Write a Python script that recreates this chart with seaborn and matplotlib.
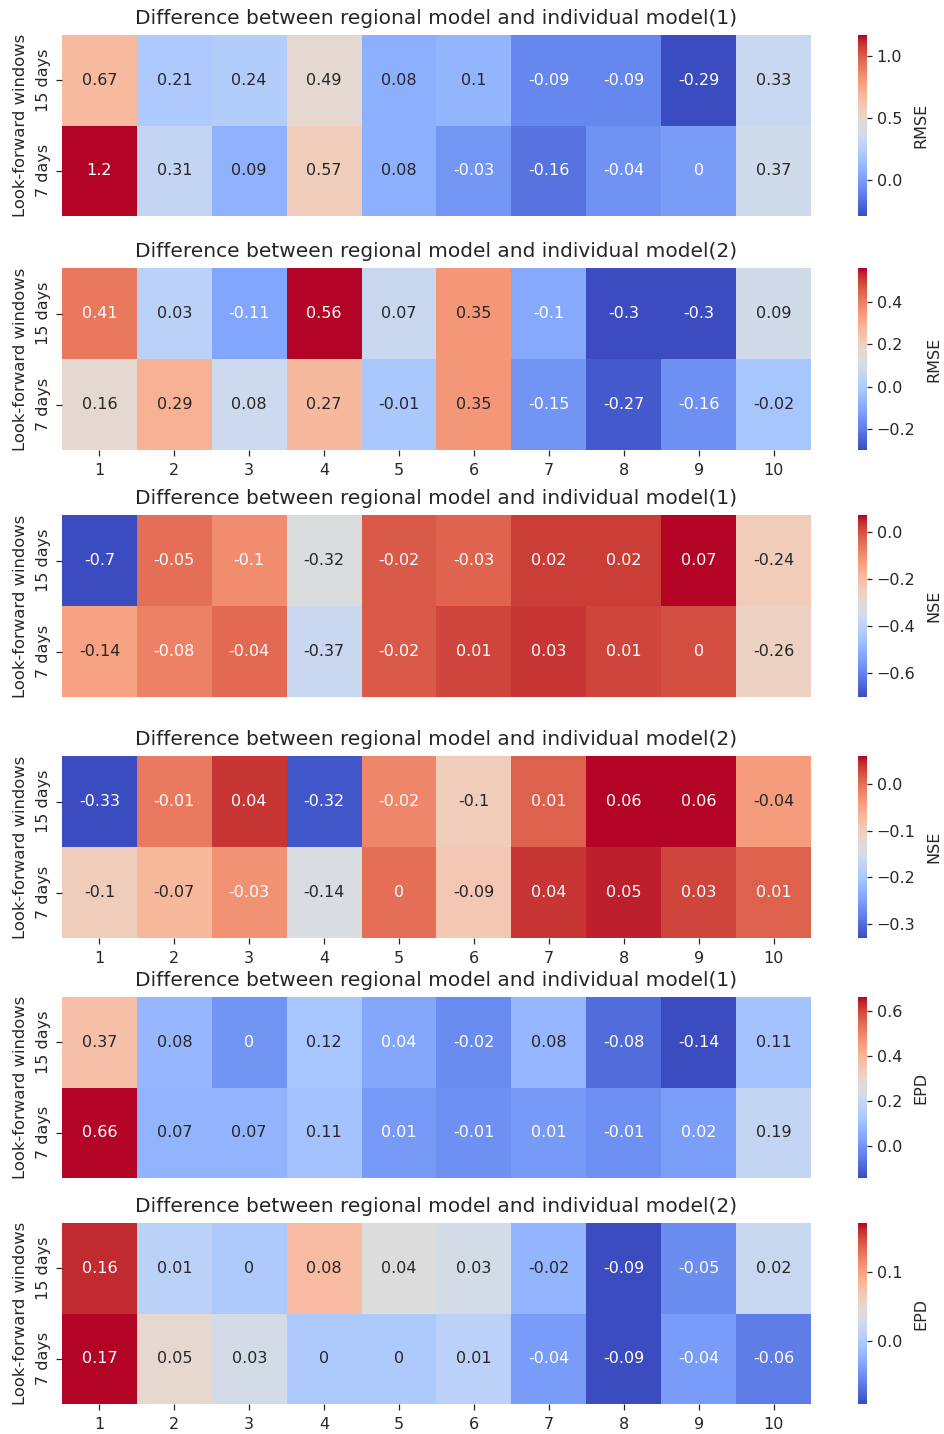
import numpy as np
import pandas as pd
import matplotlib
matplotlib.use("Agg")
import matplotlib.pyplot as plt
import seaborn as sns

regions = [str(i) for i in range(1, 11)]
windows = ["15 days", "7 days"]

rmse1_15 = [0.67, 0.21, 0.24, 0.49, 0.08, 0.10, -0.09, -0.09, -0.29, 0.33]
rmse1_7 = [1.17, 0.31, 0.09, 0.57, 0.08, -0.03, -0.16, -0.04, 0.0, 0.37]
rmse2_15 = [0.41, 0.03, -0.11, 0.56, 0.07, 0.35, -0.10, -0.30, -0.30, 0.09]
rmse2_7 = [0.16, 0.29, 0.08, 0.27, -0.01, 0.35, -0.15, -0.27, -0.16, -0.02]
nse1_15 = [-0.70, -0.05, -0.10, -0.32, -0.02, -0.03, 0.02, 0.02, 0.07, -0.24]
nse1_7 = [-0.14, -0.08, -0.04, -0.37, -0.02, 0.01, 0.03, 0.01, 0.0, -0.26]
nse2_15 = [-0.33, -0.01, 0.04, -0.32, -0.02, -0.10, 0.01, 0.06, 0.06, -0.04]
nse2_7 = [-0.10, -0.07, -0.03, -0.14, 0.0, -0.09, 0.04, 0.05, 0.03, 0.01]
epd1_15 = [0.37, 0.08, 0.0, 0.12, 0.04, -0.02, 0.08, -0.08, -0.14, 0.11]
epd1_7 = [0.66, 0.07, 0.07, 0.11, 0.01, -0.01, 0.01, -0.01, 0.02, 0.19]
epd2_15 = [0.16, 0.01, 0.0, 0.08, 0.04, 0.03, -0.02, -0.09, -0.05, 0.02]
epd2_7 = [0.17, 0.05, 0.03, 0.0, 0.0, 0.01, -0.04, -0.09, -0.04, -0.06]

panels = [
    (rmse1_15, rmse1_7, "RMSE", "(1)", False),
    (rmse2_15, rmse2_7, "RMSE", "(2)", True),
    (nse1_15, nse1_7, "NSE", "(1)", False),
    (nse2_15, nse2_7, "NSE", "(2)", True),
    (epd1_15, epd1_7, "EPD", "(1)", False),
    (epd2_15, epd2_7, "EPD", "(2)", True),
]

plt.rcParams["font.family"] = ["DejaVu Sans"]
plt.rcParams["text.color"] = "#262626"
plt.rcParams["axes.labelcolor"] = "#262626"
plt.rcParams["xtick.color"] = "#262626"
plt.rcParams["ytick.color"] = "#262626"

W, H = 945, 1434
fig = plt.figure(figsize=(W / 100, H / 100), dpi=100)

# pixel boxes (top, bottom) for each heatmap
boxes = [(35, 216), (268, 450), (515, 697), (756, 938), (997, 1178), (1223, 1404)]
x0, x1 = 62, 811
cx0, cx1 = 858, 867

for (r15, r7, metric, tag, show_x), (top, bot) in zip(panels, boxes):
    ax = fig.add_axes([x0 / W, 1 - bot / H, (x1 - x0) / W, (bot - top) / H])
    cax = fig.add_axes([cx0 / W, 1 - bot / H, (cx1 - cx0) / W, (bot - top) / H])
    df = pd.DataFrame([r15, r7], index=windows, columns=regions)
    sns.heatmap(df, ax=ax, cbar_ax=cax, cmap="coolwarm", annot=True,
                annot_kws={"fontsize": 11.5}, cbar_kws={"label": metric})
    ax.set_title("Difference between regional model and individual model" + tag,
                 fontsize=14.5, pad=8)
    ax.set_ylabel("Look-forward windows", fontsize=11.8, labelpad=6)
    ax.tick_params(axis="y", labelsize=11.5, rotation=90, length=4,
                   width=0.9, left=True, pad=4)
    for lbl in ax.get_yticklabels():
        lbl.set_va("center")
    if show_x:
        ax.tick_params(axis="x", labelsize=11.5, rotation=0, length=4,
                       width=0.9, bottom=True, pad=5.5)
    else:
        ax.set_xticks([])
    cax.tick_params(labelsize=11.5, length=3.5, width=0.9, right=True)
    cax.set_ylabel(metric, fontsize=11.5, labelpad=8)

fig.savefig("out.png", dpi=100)
